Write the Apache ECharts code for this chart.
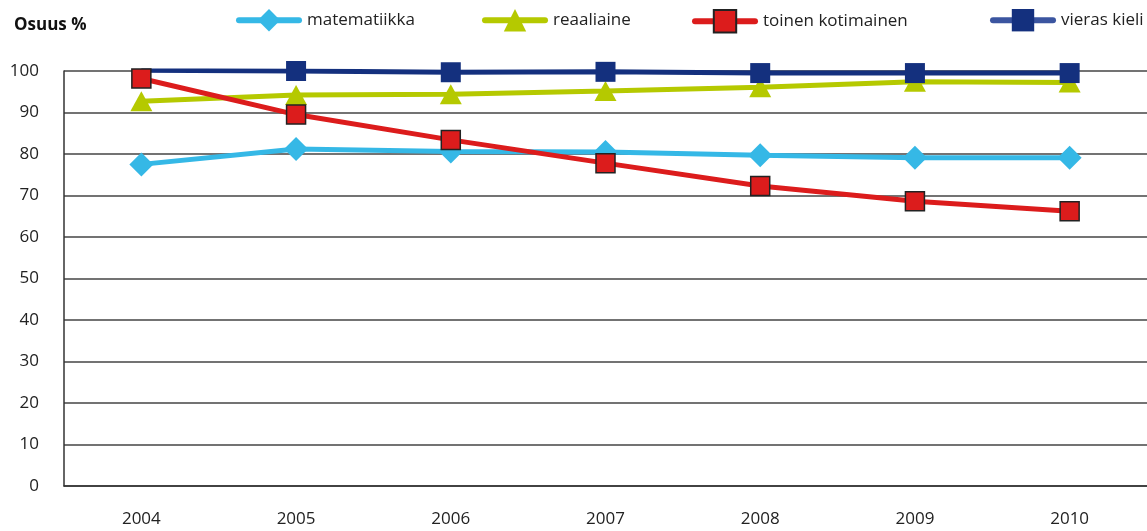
<!DOCTYPE html>
<html>
<head>
<meta charset="utf-8">
<script src="https://cdn.jsdelivr.net/npm/echarts@6/dist/echarts.min.js"></script>
<style>
html, body { margin: 0; padding: 0; background: #fff; }
#chart { width: 1147px; height: 531px; }
</style>
</head>
<body>
<div id="chart"></div>
<script>
// data
const years = ["2004", "2005", "2006", "2007", "2008", "2009", "2010"];
const matematiikka = [77.5, 81.2, 80.6, 80.5, 79.7, 79.1, 79.1];
const reaaliaine = [92.7, 94.2, 94.4, 95.2, 96.1, 97.4, 97.2];
const toinenKotimainen = [98.2, 89.5, 83.4, 77.8, 72.3, 68.6, 66.2];
const vierasKieli = [100.2, 100, 99.7, 99.8, 99.5, 99.5, 99.5];
const yTicks = [0, 10, 20, 30, 40, 50, 60, 70, 80, 90, 100];

const font = "'Open Sans', sans-serif";

let chart = echarts.init(document.getElementById("chart"));

function legendAt(name, left, lineColor) {
    let item = { name: name };
    if (lineColor) {
        item.lineStyle = { color: lineColor };
    }
    return {
        data: [item],
        left: left,
        top: 9,
        padding: 0,
        itemWidth: 60,
        itemHeight: 28,
        itemGap: 0,
        lineStyle: { width: 6, cap: "round" },
        textStyle: { fontFamily: font, fontSize: 17, color: "#222", padding: [0, 0, 0, 3] },
    };
}

let option = {
    animation: false,
    title: {
        text: "Osuus %",
        left: 9,
        top: 12,
        textStyle: { fontFamily: font, fontSize: 17, fontWeight: "bold", color: "#111" },
    },
    legend: [
        legendAt("matematiikka", 236),
        legendAt("reaaliaine", 482),
        legendAt("toinen kotimainen", 692),
        legendAt("vieras kieli", 990, "#3b55a0"),
    ],
    grid: {
        left: 64,
        right: 0,
        top: 71,
        bottom: 45,
    },
    xAxis: {
        type: "category",
        data: years,
        boundaryGap: true,
        axisLine: { show: true, lineStyle: { color: "#333", width: 1.5 } },
        axisTick: { show: false },
        axisLabel: { fontFamily: font, fontSize: 17, color: "#222", margin: 25 },
    },
    yAxis: {
        type: "value",
        min: 0,
        max: 100,
        interval: 10,
        axisLine: { show: true, lineStyle: { color: "#333", width: 1.5 } },
        axisTick: { show: false },
        axisLabel: {
            fontFamily: font, fontSize: 17, color: "#222", margin: 25,
            formatter: function (v) { return yTicks.indexOf(v) >= 0 ? String(v) : ""; },
        },
        splitLine: { show: true, lineStyle: { color: "#444", width: 1.5 } },
    },
    series: [
        {
            name: "matematiikka",
            type: "line",
            data: matematiikka,
            symbol: "diamond",
            symbolSize: 24,
            lineStyle: { color: "#35b8e6", width: 5 },
            itemStyle: { color: "#35b8e6" },
            z: 2,
        },
        {
            name: "reaaliaine",
            type: "line",
            data: reaaliaine,
            symbol: "triangle",
            symbolSize: [22, 20],
            lineStyle: { color: "#b5c900", width: 5 },
            itemStyle: { color: "#b5c900" },
            z: 3,
        },
        {
            name: "toinen kotimainen",
            type: "line",
            data: toinenKotimainen,
            symbol: "rect",
            symbolSize: 19,
            lineStyle: { color: "#dc1c1c", width: 5 },
            itemStyle: { color: "#dc1c1c", borderColor: "#222", borderWidth: 1.5 },
            z: 5,
        },
        {
            name: "vieras kieli",
            type: "line",
            data: vierasKieli,
            symbol: "rect",
            symbolSize: 20,
            lineStyle: { color: "#14307e", width: 5 },
            itemStyle: { color: "#14307e" },
            z: 4,
        },
    ],
};

chart.setOption(option);
</script>
</body>
</html>
